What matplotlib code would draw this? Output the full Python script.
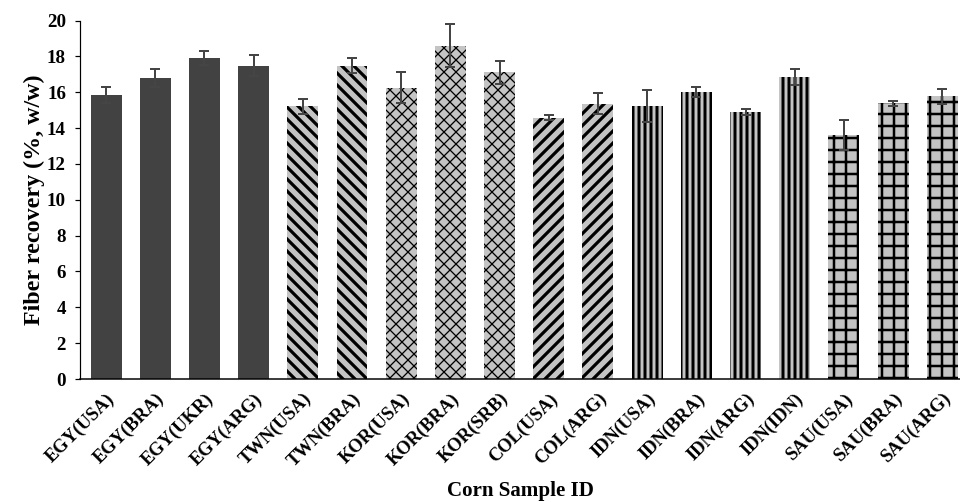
import matplotlib
matplotlib.use("Agg")
import matplotlib.pyplot as plt

samples = ["EGY(USA)", "EGY(BRA)", "EGY(UKR)", "EGY(ARG)",
           "TWN(USA)", "TWN(BRA)",
           "KOR(USA)", "KOR(BRA)", "KOR(SRB)",
           "COL(USA)", "COL(ARG)",
           "IDN(USA)", "IDN(BRA)", "IDN(ARG)", "IDN(IDN)",
           "SAU(USA)", "SAU(BRA)", "SAU(ARG)"]
recovery = [15.86, 16.79, 17.92, 17.49,
            15.21, 17.49,
            16.25, 18.60, 17.12,
            14.58, 15.36,
            15.25, 16.01, 14.90, 16.86,
            13.61, 15.39, 15.77]
sd = [0.46, 0.52, 0.41, 0.61,
      0.44, 0.40,
      0.87, 1.20, 0.65,
      0.15, 0.60,
      0.90, 0.30, 0.17, 0.45,
      0.82, 0.13, 0.43]
groups = ["EGY"] * 4 + ["TWN"] * 2 + ["KOR"] * 3 + ["COL"] * 2 + ["IDN"] * 4 + ["SAU"] * 3

# fill colour, hatch, hatch line width per country of origin
style = {
    "EGY": ("#424242", None, 0),
    "TWN": ("#c4c4c4", "\\\\", 3.2),
    "KOR": ("#c4c4c4", "xx", 1.3),
    "COL": ("#c4c4c4", "//", 3.2),
    "IDN": ("#c4c4c4", "||", 3.0),
    "SAU": ("#c4c4c4", "+", 2.5),
}

plt.rcParams["font.family"] = ["Liberation Serif", "DejaVu Serif"]
plt.rcParams["font.weight"] = "bold"

fig = plt.figure(figsize=(960 / 72, 502 / 72), dpi=72)
ax = fig.add_axes([0.0833, 0.245, 0.9167, 0.714])

x = list(range(len(samples)))
for i in x:
    face, hatch, hlw = style[groups[i]]
    with plt.rc_context({"hatch.linewidth": max(hlw, 0.1)}):
        bar = ax.bar(i, recovery[i], width=0.63, color=face, edgecolor="black",
                     linewidth=0, hatch=hatch, zorder=2)
    for p in bar:
        if hatch and hasattr(p, "set_hatch_linewidth"):
            p.set_hatch_linewidth(hlw)

ax.errorbar(x, recovery, yerr=sd, fmt="none", ecolor="#454545", elinewidth=2,
            capsize=5, capthick=2, zorder=3)

ax.set_xlim(-0.53, 17.36)
ax.set_ylim(0, 20)
ax.set_yticks(range(0, 21, 2))
ax.set_xticks(x)
ax.set_xticklabels(samples, rotation=45, ha="right", rotation_mode="anchor",
                   fontsize=18.5, fontweight="bold")
ax.tick_params(axis="x", length=0, pad=11)
ax.tick_params(axis="y", length=5, width=1.2, labelsize=19, pad=9)
for lab in ax.get_yticklabels():
    lab.set_fontweight("bold")
for side in ("top", "right"):
    ax.spines[side].set_visible(False)
ax.spines["left"].set_linewidth(1.2)
ax.spines["bottom"].set_linewidth(1.5)

ax.set_ylabel("Fiber recovery (%, w/w)", fontsize=24, fontweight="bold", labelpad=2)
ax.set_xlabel("Corn Sample ID", fontsize=21, fontweight="bold", labelpad=11)

fig.savefig("out.png", dpi=72)
plt.close(fig)
